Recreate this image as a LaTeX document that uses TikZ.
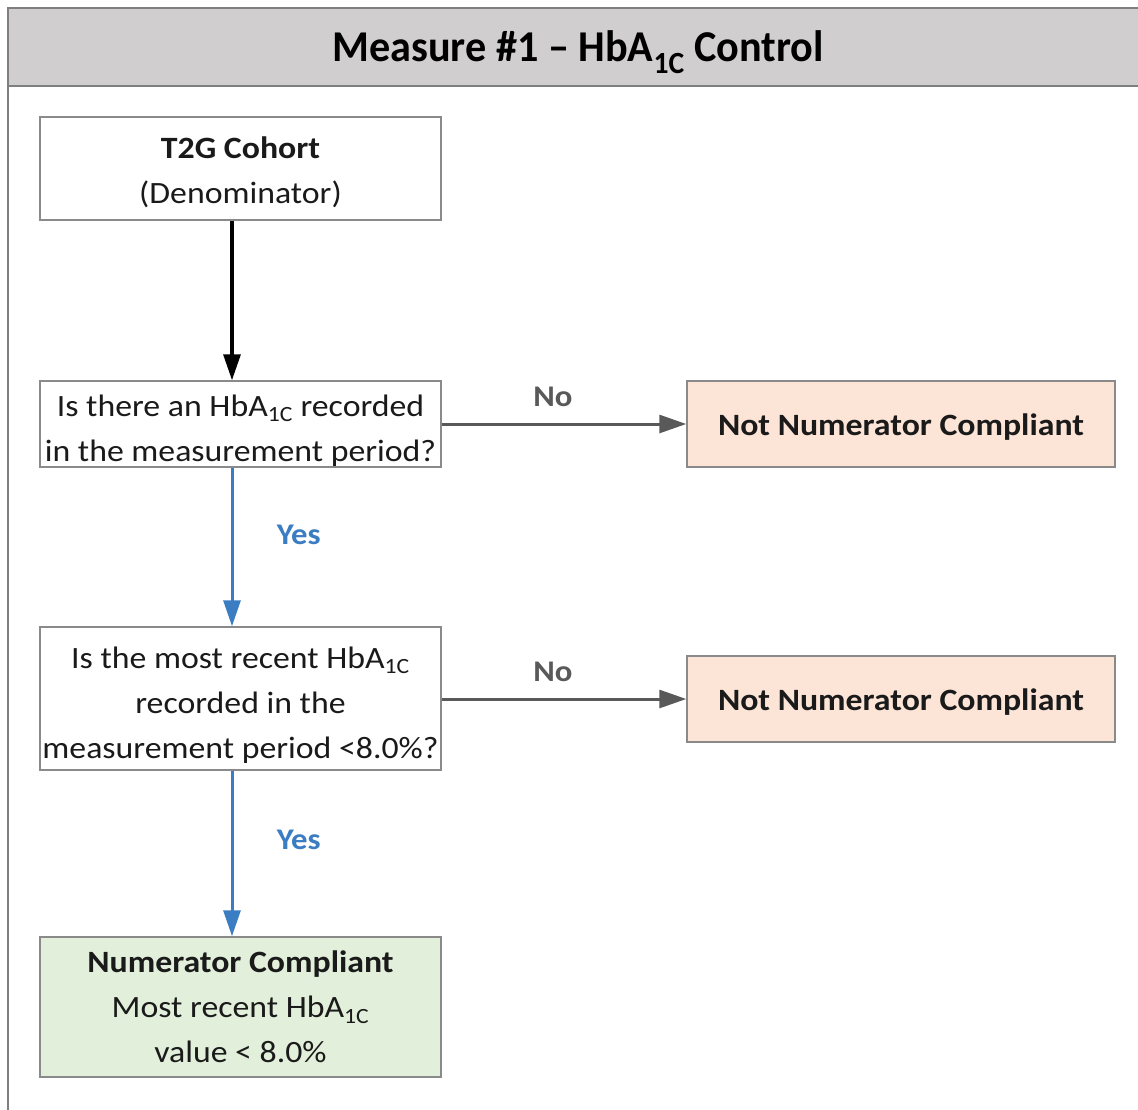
\documentclass[tikz,border=0pt]{standalone}
\usepackage{fontspec}
\setmainfont{Carlito}[FakeStretch=1.09]
\usetikzlibrary{arrows.meta}
\definecolor{hdrfill}{HTML}{D0CECE}
\definecolor{boxline}{HTML}{8A8A8A}
\definecolor{framecol}{HTML}{7F7F7F}
\definecolor{pinkfill}{HTML}{FCE4D6}
\definecolor{greenfill}{HTML}{E2EFDA}
\definecolor{yesblue}{HTML}{3A7DC2}
\definecolor{nogray}{HTML}{595959}
\definecolor{txt}{HTML}{1A1A1A}
\newcommand{\hba}{HbA\textsubscript{1C}}
\newcommand{\dnstrut}[1]{\rule{0pt}{#1}}
\tikzset{
  boxbase/.style={draw=boxline, line width=1.5pt, rectangle, align=center, text=txt,
    font=\fontsize{31}{45}\selectfont, inner sep=0pt},
  wbox/.style={boxbase, fill=white, minimum width=401pt},
  nbox/.style={boxbase, fill=pinkfill, minimum width=428pt, minimum height=86pt},
  gbox/.style={boxbase, fill=greenfill, minimum width=401pt, minimum height=140pt},
  blackarrow/.style={line width=3.2pt, draw=black, -{Triangle[length=26pt,width=17pt]}},
  yesarrow/.style={line width=3pt, draw=yesblue, -{Triangle[length=26pt,width=17pt,fill=yesblue]}},
  noarrow/.style={line width=3pt, draw=nogray, -{Triangle[length=27pt,width=18pt,fill=nogray]}},
  yeslabel/.style={text=yesblue, font=\fontsize{30}{35}\selectfont\bfseries},
  nolabel/.style={text=nogray, font=\fontsize{30}{35}\selectfont\bfseries}
}
\begin{document}
\begin{tikzpicture}[x=1pt,y=-1pt]
\useasboundingbox (0,0) rectangle (1138,1109);
\fill[white] (0,0) rectangle (1138,1109);
% header
\fill[hdrfill] (8,8) rectangle (1140,86);
\draw[framecol, line width=2pt] (1140,8) -- (8,8) -- (8,1112);
\draw[framecol, line width=2pt] (8,86) -- (1140,86);
\node[text=black, inner sep=0pt] (title) at (578,52)
  {\scalebox{0.88}[1]{\fontsize{44}{50}\selectfont\bfseries Measure \#1 -- \hba{} Control}};
% boxes
\node[wbox, minimum height=103pt] (cohort) at (240.5,168.5)
  {\dnstrut{30pt}\textbf{T2G Cohort}\\(Denominator)};
\node[wbox, minimum height=86pt] (q1) at (240.5,424)
  {\dnstrut{34pt}Is there an \hba{} recorded\\in the measurement period?};
\node[nbox] (n1) at (901,424) {\dnstrut{28pt}\textbf{Not Numerator Compliant}};
\node[wbox, minimum height=143pt] (q2) at (240.5,698.5)
  {\dnstrut{34pt}Is the most recent \hba\\recorded in the\\measurement period <8.0\%?};
\node[nbox] (n2) at (901,699) {\dnstrut{28pt}\textbf{Not Numerator Compliant}};
\node[gbox] (nc) at (240.5,1007)
  {\textbf{Numerator Compliant}\\Most recent \hba\\value < 8.0\%};
% connectors
\draw[blackarrow] (cohort.south -| 232,0) -- (q1.north -| 232,0);
\draw[yesarrow] (q1.south -| 232,0) -- node[yeslabel, right=40pt, yshift=12pt] {Yes} (q2.north -| 232,0);
\draw[yesarrow] (q2.south -| 232,0) -- node[yeslabel, right=40pt, yshift=14pt] {Yes} (nc.north -| 232,0);
\draw[noarrow] (q1.east) -- node[nolabel, above=12pt, xshift=-11pt] {No} (n1.west);
\draw[noarrow] (q2.east |- n2.west) -- node[nolabel, above=12pt, xshift=-11pt] {No} (n2.west);
\end{tikzpicture}
\end{document}
